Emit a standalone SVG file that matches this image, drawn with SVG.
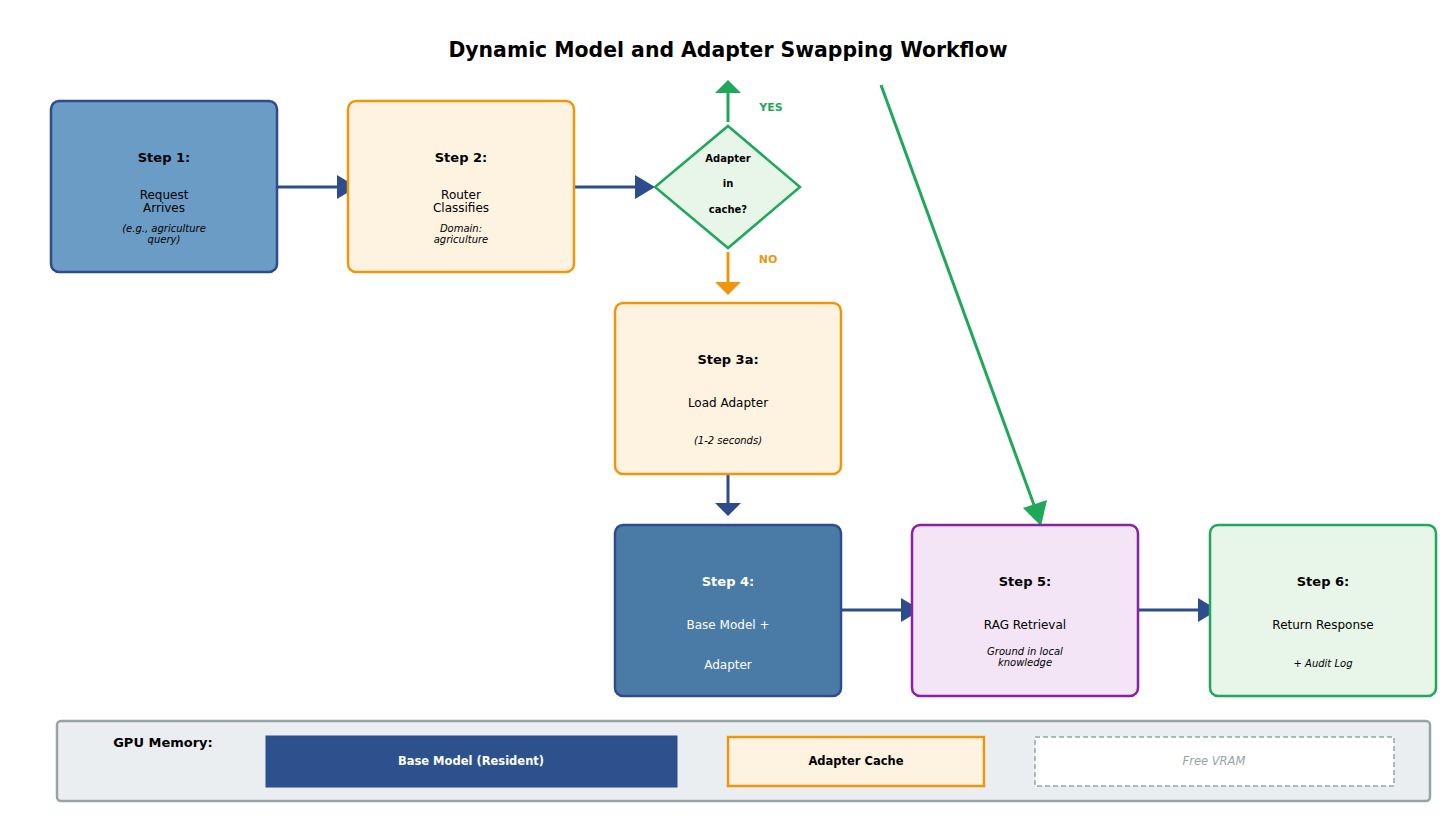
<svg xmlns="http://www.w3.org/2000/svg" width="1456" height="828" viewBox="0 0 1456 828">
<style>
text{font-family:"DejaVu Sans","Liberation Sans",sans-serif;text-anchor:middle;dominant-baseline:central;fill:#000}
.title{font-size:20.4px;font-weight:bold}
.step{font-size:13px;font-weight:bold}
.main{font-size:12px}
.sub{font-size:10px;font-style:italic}
.dia{font-size:10px;font-weight:bold}
.box{stroke-width:2.5}
.blue{stroke:#2c4c8c}
.orange{fill:#fef2e0;stroke:#f0960e}
.green{fill:#e8f5e9;stroke:#1fa85a}
.purple{fill:#f3e5f5;stroke:#8b1fa6}
.conn{fill:none;stroke-width:3}
.w{fill:#fff}
.mem{font-size:11.5px}
</style>
<rect width="1456" height="828" fill="#fff"/>
<text class="title" x="728" y="50">Dynamic Model and Adapter Swapping Workflow</text>

<g id="connectors">
  <line class="conn" x1="277" y1="187" x2="340" y2="187" stroke="#2c4c8c"/>
  <polygon points="337,175 357,187 337,199" fill="#2c4c8c"/>
  <line class="conn" x1="574" y1="187" x2="638" y2="187" stroke="#2c4c8c"/>
  <polygon points="635,175 655,187 635,199" fill="#2c4c8c"/>
  <line class="conn" x1="728" y1="122" x2="728" y2="92" stroke="#1fa85a"/>
  <polygon points="715,93 728,80 741,93" fill="#1fa85a"/>
  <line class="conn" x1="728" y1="252" x2="728" y2="283" stroke="#f0960e"/>
  <polygon points="715,282 728,295 741,282" fill="#f0960e"/>
  <line class="conn" x1="728" y1="474" x2="728" y2="504" stroke="#2c4c8c"/>
  <polygon points="715,503 728,516 741,503" fill="#2c4c8c"/>
  <line class="conn" x1="841" y1="610" x2="904" y2="610" stroke="#2c4c8c"/>
  <polygon points="901,598 921,610 901,622" fill="#2c4c8c"/>
  <line class="conn" x1="1138" y1="610" x2="1201" y2="610" stroke="#2c4c8c"/>
  <polygon points="1198,598 1218,610 1198,622" fill="#2c4c8c"/>
  <line class="conn" x1="881" y1="85" x2="1034" y2="505" stroke="#1fa85a"/>
  <polygon points="1023,508 1047,500 1041,526" fill="#1fa85a"/>
  <text x="771" y="107" style="font-size:11px;font-weight:bold;fill:#1fa85a">YES</text>
  <text x="768" y="259" style="font-size:11px;font-weight:bold;fill:#f0960e">NO</text>
</g>

<g id="step1">
  <rect class="box blue" x="51" y="101" width="226" height="171" rx="8" fill="#6b9cc5"/>
  <text class="step" x="164" y="157">Step 1:</text>
  <text class="main" x="164" y="195">Request</text>
  <text class="main" x="164" y="208">Arrives</text>
  <text class="sub" x="164" y="228">(e.g., agriculture</text>
  <text class="sub" x="164" y="239">query)</text>
</g>
<g id="step2">
  <rect class="box orange" x="348" y="101" width="226" height="171" rx="8"/>
  <text class="step" x="461" y="157">Step 2:</text>
  <text class="main" x="461" y="195">Router</text>
  <text class="main" x="461" y="208">Classifies</text>
  <text class="sub" x="461" y="228">Domain:</text>
  <text class="sub" x="461" y="239">agriculture</text>
</g>
<g id="decision">
  <polygon class="box green" points="728,126 800,187 728,248 655,187"/>
  <text class="dia" x="728" y="158">Adapter</text>
  <text class="dia" x="728" y="183">in</text>
  <text class="dia" x="728" y="209">cache?</text>
</g>
<g id="step3a">
  <rect class="box orange" x="615" y="303" width="226" height="171" rx="8"/>
  <text class="step" x="728" y="359">Step 3a:</text>
  <text class="main" x="728" y="403">Load Adapter</text>
  <text class="sub" x="728" y="440">(1-2 seconds)</text>
</g>
<g id="step4">
  <rect class="box blue" x="615" y="525" width="226" height="171" rx="8" fill="#4a7ba7"/>
  <text class="step w" x="728" y="581">Step 4:</text>
  <text class="main w" x="728" y="625">Base Model +</text>
  <text class="main w" x="728" y="665">Adapter</text>
</g>
<g id="step5">
  <rect class="box purple" x="912" y="525" width="226" height="171" rx="8"/>
  <text class="step" x="1025" y="581">Step 5:</text>
  <text class="main" x="1025" y="625">RAG Retrieval</text>
  <text class="sub" x="1025" y="651">Ground in local</text>
  <text class="sub" x="1025" y="662">knowledge</text>
</g>
<g id="step6">
  <rect class="box green" x="1210" y="525" width="226" height="171" rx="8"/>
  <text class="step" x="1323" y="581">Step 6:</text>
  <text class="main" x="1323" y="625">Return Response</text>
  <text class="sub" x="1323" y="663">+ Audit Log</text>
</g>

<g id="gpu-memory">
  <rect x="57" y="721" width="1373" height="80" rx="4" fill="#ebeef1" stroke="#95a5a6" stroke-width="2.5"/>
  <text x="163" y="742" style="font-size:13px;font-weight:bold">GPU Memory:</text>
  <g id="base-model">
    <rect x="266" y="736" width="411" height="51" fill="#2c518d" stroke="#2c4c8c" stroke-width="1"/>
    <text class="mem" x="471" y="761" style="font-weight:bold;fill:#fff">Base Model (Resident)</text>
  </g>
  <g id="adapter-cache">
    <rect class="box orange" x="728" y="737" width="256" height="49"/>
    <text class="mem" x="856" y="761" style="font-weight:bold">Adapter Cache</text>
  </g>
  <g id="free-vram">
    <rect x="1035" y="737" width="359" height="49" fill="#fff" stroke="#95a5a6" stroke-width="1.5" stroke-dasharray="5,3"/>
    <text class="mem" x="1214" y="761" style="font-style:italic;fill:#95a5a6">Free VRAM</text>
  </g>
</g>
</svg>
